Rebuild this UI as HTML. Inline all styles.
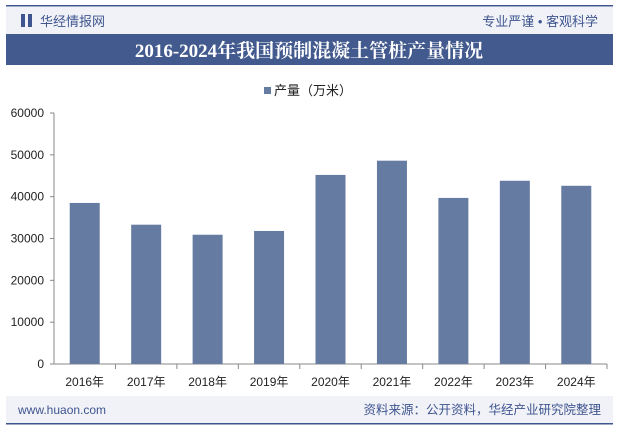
<!DOCTYPE html>
<html><head><meta charset="utf-8"><style>
body{margin:0;width:619px;height:429px;background:#fff;overflow:hidden;font-family:"Liberation Sans","Noto Sans CJK SC",sans-serif;}
</style></head><body>
<svg width="619" height="429" xmlns="http://www.w3.org/2000/svg">
<rect x="6" y="5" width="607" height="1.5" fill="#3f5590"/>
<rect x="6" y="7" width="607" height="27" fill="#f1f2f7"/>
<rect x="21" y="14" width="4" height="13" fill="#3f5590"/>
<rect x="28" y="14" width="4" height="13" fill="#3f5590"/>
<text x="40" y="26" font-size="13" fill="#3f5590">华经情报网</text>
<text x="598" y="26" font-size="13" fill="#3f5590" text-anchor="end">专业严谨 • 客观科学</text>
<rect x="6" y="34" width="607" height="31" fill="#435a8e"/>
<text x="309" y="57" font-size="19" font-weight="bold" fill="#fff" text-anchor="middle" font-family="'Liberation Serif','Noto Serif CJK SC',serif">2016-2024年我国预制混凝土管桩产量情况</text>
<rect x="264" y="87" width="7" height="7" fill="#667ba1"/>
<text x="274" y="95" font-size="13" fill="#222">产量（万米）</text>
<g id="plot"></g>
<rect x="6" y="396" width="607" height="27" fill="#f1f2f7"/>
<rect x="6" y="423" width="607" height="1.5" fill="#3f5590"/>
<text x="18" y="414" font-size="12" fill="#3f5590">www.huaon.com</text>
<text x="601" y="414" font-size="12.5" fill="#3f5590" text-anchor="end">资料来源：公开资料，华经产业研究院整理</text>
</svg>
<script>
const categories=["2016年","2017年","2018年","2019年","2020年","2021年","2022年","2023年","2024年"];
const values=[38500,33300,30900,31800,45200,48600,39700,43800,42600];
const yTicks=[0,10000,20000,30000,40000,50000,60000];
const NS="http://www.w3.org/2000/svg";
const g=document.getElementById('plot');
const x0=54,x1=607,yBase=364,yTop=113,yMax=60000;
const y=v=>yBase-(v/yMax)*(yBase-yTop);
const bw=(x1-x0)/categories.length;
function mk(t,a,txt){const e=document.createElementNS(NS,t);for(const k in a)e.setAttribute(k,a[k]);if(txt!=null)e.textContent=txt;g.appendChild(e);return e;}
let ax=mk('line',{x1:x0,y1:yTop,x2:x0,y2:yBase,stroke:'#888','stroke-width':1});


yTicks.forEach(v=>{
 mk('line',{x1:x0-4,y1:y(v),x2:x0,y2:y(v),stroke:'#888'});
 const t=mk('text',{x:x0-10,y:y(v)+4,'font-size':12,fill:'#222','text-anchor':'end'},String(v));
 
 
});
let xa=mk('line',{x1:x0,y1:yBase,x2:x1,y2:yBase,stroke:'#888'});


categories.forEach((c,i)=>{
 const cx=x0+bw*(i+0.5);
 mk('line',{x1:x0+bw*(i+1),y1:yBase,x2:x0+bw*(i+1),y2:yBase+5,stroke:'#888'});
 const r=mk('rect',{x:cx-15,y:y(values[i]),width:30,height:yBase-y(values[i]),fill:'#667ba1'});
 
 
 const t=mk('text',{x:cx,y:yBase+22,'font-size':12,fill:'#222','text-anchor':'middle'},c);
 
 
});
</script>
</body></html>
